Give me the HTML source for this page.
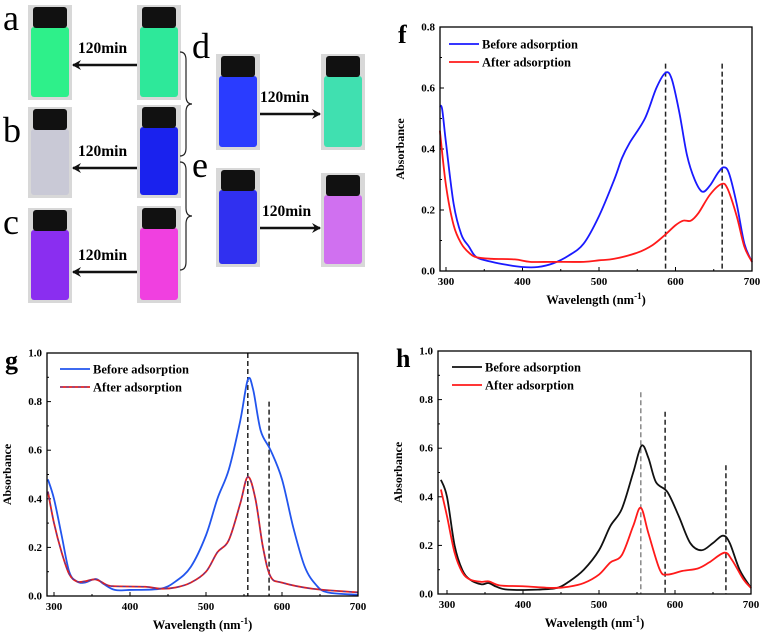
<!DOCTYPE html>
<html><head><meta charset="utf-8"><style>
body{margin:0;background:#fff;}
svg{display:block;font-family:"Liberation Serif",serif;}
</style></head><body>
<svg id="fig" width="762" height="637" viewBox="0 0 762 637" xmlns="http://www.w3.org/2000/svg">
<defs>
<marker id="ah" markerWidth="10" markerHeight="10" refX="8" refY="5" orient="auto" markerUnits="userSpaceOnUse"><path d="M0,0 L9,5 L0,10 L3,5 Z" fill="#111"/></marker>
</defs>
<g id="vials"></g>
<g id="charts"></g>
</svg>
<script>
// ---------- chart data ----------
const fBeforeX=[292,295,300,310,320,330,340,360,380,400,420,440,460,480,500,520,530,540,560,575,587,595,605,615,625,635,645,655,663,670,680,690,700];
const fBeforeY=[.54,.53,.42,.22,.12,.08,.045,.03,.02,.013,.013,.025,.05,.09,.18,.3,.37,.42,.5,.6,.65,.63,.52,.38,.3,.26,.28,.32,.34,.32,.22,.09,.03];
const fAfterX=[292,300,310,320,330,340,360,390,410,440,480,500,520,550,570,587,600,610,620,630,645,660,668,680,690,700];
const fAfterY=[.46,.28,.15,.09,.06,.045,.04,.038,.03,.03,.03,.035,.04,.06,.085,.12,.15,.165,.165,.19,.25,.285,.27,.18,.08,.03];
const fMarkX=[587,661];
const fMarkTop=[.68,.68];

const gBeforeX=[292,300,310,320,330,340,355,365,380,400,440,460,480,500,515,530,545,555,562,572,585,600,615,630,645,660,700];
const gBeforeY=[.48,.4,.25,.1,.06,.055,.07,.05,.025,.025,.03,.06,.12,.25,.4,.52,.72,.89,.85,.68,.6,.48,.28,.12,.045,.015,.005];
const gAfterX=[292,300,310,320,330,340,355,370,380,420,440,460,480,500,515,530,545,555,565,575,585,600,640,700];
const gAfterY=[.43,.3,.18,.09,.06,.06,.068,.045,.04,.038,.03,.035,.055,.1,.18,.23,.38,.49,.4,.2,.08,.055,.03,.015];
const gMarkX=[555,583];
const gMarkTop=[1.0,.8];

const hBeforeX=[292,300,310,320,330,345,355,365,380,420,445,460,480,500,515,530,545,556,565,575,590,605,620,635,650,663,672,685,700];
const hBeforeY=[.47,.4,.2,.1,.06,.04,.045,.03,.018,.018,.025,.05,.1,.18,.28,.35,.5,.61,.56,.46,.42,.32,.21,.18,.21,.24,.21,.1,.025];
const hAfterX=[292,300,310,320,330,345,355,370,400,440,460,480,500,515,530,545,555,565,580,590,610,630,645,665,675,690,700];
const hAfterY=[.43,.32,.17,.09,.06,.05,.052,.035,.032,.025,.03,.045,.08,.13,.16,.28,.355,.25,.1,.08,.095,.105,.13,.17,.14,.06,.025];
const hMarkX=[555,587,667];
const hMarkTop=[.83,.75,.53];

const xTicks=[300,400,500,600,700];
const fYTicks=[0.0,0.2,0.4,0.6,0.8];
const ghYTicks=[0.0,0.2,0.4,0.6,0.8,1.0];

const NS='http://www.w3.org/2000/svg';
function mk(tag,attrs,parent){const e=document.createElementNS(NS,tag);for(const k in attrs)e.setAttribute(k,attrs[k]);if(parent)parent.appendChild(e);return e;}
function smooth(pts){let d='M'+pts[0][0]+','+pts[0][1];for(let i=0;i<pts.length-1;i++){const p0=pts[i-1]||pts[i],p1=pts[i],p2=pts[i+1],p3=pts[i+2]||p2;const c1x=p1[0]+(p2[0]-p0[0])/6,c1y=p1[1]+(p2[1]-p0[1])/6,c2x=p2[0]-(p3[0]-p1[0])/6,c2y=p2[1]-(p3[1]-p1[1])/6;d+=` C${c1x},${c1y} ${c2x},${c2y} ${p2[0]},${p2[1]}`;}return d;}

function chart(o){
  const root=document.getElementById('charts');
  const g=mk('g',{},root);
  
  
  const xs=v=>o.x300+(v-300)*(o.x700-o.x300)/400;
  const ys=v=>o.bottom-(v/o.ymax)*(o.bottom-o.top);
  for(const t of o.xt){const x=xs(t);
    const tk=mk('line',{x1:x,x2:x,y1:o.bottom,y2:o.bottom-4,stroke:'#000','stroke-width':1},g);
    
    const tl=mk('text',{x:x,y:o.bottom+14,'text-anchor':'middle','font-size':11,'font-weight':'bold'},g);tl.textContent=t;
    
    if(t<700){const m=xs(t+50);mk('line',{x1:m,x2:m,y1:o.bottom,y2:o.bottom-2,stroke:'#000'},g);}
  }
  for(const t of o.yt){const y=ys(t);
    const tk=mk('line',{x1:o.left,x2:o.left+4,y1:y,y2:y,stroke:'#000'},g);
    
    const tl=mk('text',{x:o.left-5,y:y+3.5,'text-anchor':'end','font-size':11,'font-weight':'bold'},g);tl.textContent=t.toFixed(1);
    
    if(t<o.ymax){const m=ys(t+0.1);mk('line',{x1:o.left,x2:o.left+2,y1:m,y2:m,stroke:'#000'},g);}
  }
  o.marks.forEach((mx,i)=>{const x=xs(mx);
    const l=mk('line',{x1:x,x2:x,y1:ys(o.markTop[i]),y2:o.bottom,stroke:o.markColor?o.markColor[i]:'#222','stroke-width':1.5,'stroke-dasharray':'5,3'},g);
    
  });
  o.series.forEach(s=>{
    const pts=s.x.map((v,i)=>[xs(v),ys(s.y[i])]);
    const p=mk('path',{d:smooth(pts),fill:'none',stroke:s.color,'stroke-width':1.8},g);
    
    if(s.overlay){const q=mk('path',{d:smooth(pts),fill:'none',stroke:s.overlay,'stroke-width':0.8,'stroke-dasharray':'3,3'},g);
      }
  });
  const fr=mk('rect',{x:o.left,y:o.top,width:o.right-o.left,height:o.bottom-o.top,fill:'none',stroke:'#000','stroke-width':1.3},g);
  
  o.series.forEach((s,i)=>{const y=o.legY+i*18;
    const ll=mk('line',{x1:o.legX,x2:o.legX+30,y1:y,y2:y,stroke:s.color,'stroke-width':1.8},g);
    
    if(s.overlay)mk('line',{x1:o.legX,x2:o.legX+30,y1:y,y2:y,stroke:s.overlay,'stroke-width':0.8,'stroke-dasharray':'3,3'},g);
    const lt=mk('text',{x:o.legX+33,y:y+4.5,'font-size':12.5,'font-weight':'bold'},g);lt.textContent=s.label;
    
  });
  const xt=mk('text',{x:(o.left+o.right)/2,y:o.bottom+33,'text-anchor':'middle','font-size':12.5,'font-weight':'bold'},g);
  xt.innerHTML='Wavelength (nm<tspan dy="-5" font-size="9">-1</tspan><tspan dy="5">)</tspan>';
  
  const cy=(o.top+o.bottom)/2;
  const yt=mk('text',{x:o.left-36,y:cy,'text-anchor':'middle','font-size':12,'font-weight':'bold',transform:`rotate(-90 ${o.left-36} ${cy})`},g);
  yt.textContent='Absorbance';
  
  const pl=mk('text',{x:o.left-42,y:o.top+16,'font-size':26,'font-weight':'bold'},g);pl.textContent=o.id;
  
}

chart({id:'f',left:440,right:752,top:27,bottom:271,x300:446,x700:752,ymax:0.8,xt:xTicks,yt:fYTicks,legX:449,legY:44,
  marks:fMarkX,markTop:fMarkTop,
  series:[{name:'before-adsorption-line',label:'Before adsorption',x:fBeforeX,y:fBeforeY,color:'#1a1aff'},
          {name:'after-adsorption-line',label:'After adsorption',x:fAfterX,y:fAfterY,color:'#ff1a1a'}]});
chart({id:'g',left:47,right:358,top:353,bottom:596,x300:54,x700:358,ymax:1.0,xt:xTicks,yt:ghYTicks,legX:60,legY:369,
  marks:gMarkX,markTop:gMarkTop,
  series:[{name:'before-adsorption-line',label:'Before adsorption',x:gBeforeX,y:gBeforeY,color:'#2255ee'},
          {name:'after-adsorption-line',label:'After adsorption',x:gAfterX,y:gAfterY,color:'#e02020',overlay:'#3040c0'}]});
chart({id:'h',left:438,right:751,top:351,bottom:594,x300:447,x700:751,ymax:1.0,xt:xTicks,yt:ghYTicks,legX:452,legY:367,
  marks:hMarkX,markTop:hMarkTop,markColor:['#888','#222','#222'],
  series:[{name:'before-adsorption-line',label:'Before adsorption',x:hBeforeX,y:hBeforeY,color:'#111'},
          {name:'after-adsorption-line',label:'After adsorption',x:hAfterX,y:hAfterY,color:'#ff1a1a'}]});

// ---------- vials ----------
const V=document.getElementById('vials');
function vial(x,y,h,col,name){
  const g=mk('g',{},V);
  
  mk('rect',{x:x-2,y:y-2,width:44,height:h+4,fill:'#d8d8d8'},g);
  mk('rect',{x:x+1,y:y+20,width:38,height:h-21,fill:col,rx:3},g);
  mk('rect',{x:x+3,y:y,width:34,height:21,fill:'#111',rx:3},g);
}
vial(30,7,91,'#2ef08a','vial-a-after');vial(139,7,91,'#2ee89a','vial-a-before');
vial(30,109,87,'#c9c9d6','vial-b-after');vial(139,107,89,'#1a22ee','vial-b-before');
vial(30,210,91,'#8a2ef0','vial-c-after');vial(139,208,93,'#f040e0','vial-c-before');
vial(218,56,92,'#2a3cff','vial-d-before');vial(323,56,92,'#40e0b0','vial-d-after');
vial(218,170,95,'#3030f0','vial-e-before');vial(323,175,90,'#d070f0','vial-e-after');
function arrow(x1,x2,y,tx,name){
  const l=mk('line',{x1:x1,x2:x2,y1:y,y2:y,stroke:'#111','stroke-width':2.5,'marker-end':'url(#ah)'},V);
  
  const t=mk('text',{x:tx,y:y-12,'font-size':15.5,'font-weight':'bold'},V);t.textContent='120min';
  
}
arrow(137,73,65,78,'arrow-a');arrow(137,73,168,78,'arrow-b');arrow(137,73,272,78,'arrow-c');
arrow(260,320,114,260,'arrow-d');arrow(260,320,228,262,'arrow-e');
function label(t,x,y){const e=mk('text',{x:x,y:y,'font-size':36},V);e.textContent=t;
  }
label('a',3,30);label('b',3,142);label('c',3,234);label('d',192,58);label('e',192,177);
const b1=mk('path',{d:'M180,52 q6,0 6,8 v36 q0,8 6,8 q-6,0 -6,8 v36 q0,8 -6,8',fill:'none',stroke:'#222','stroke-width':1.2},V);

const b2=mk('path',{d:'M180,162 q6,0 6,8 v38 q0,8 6,8 q-6,0 -6,8 v38 q0,8 -6,8',fill:'none',stroke:'#222','stroke-width':1.2},V);

</script>
</body></html>
